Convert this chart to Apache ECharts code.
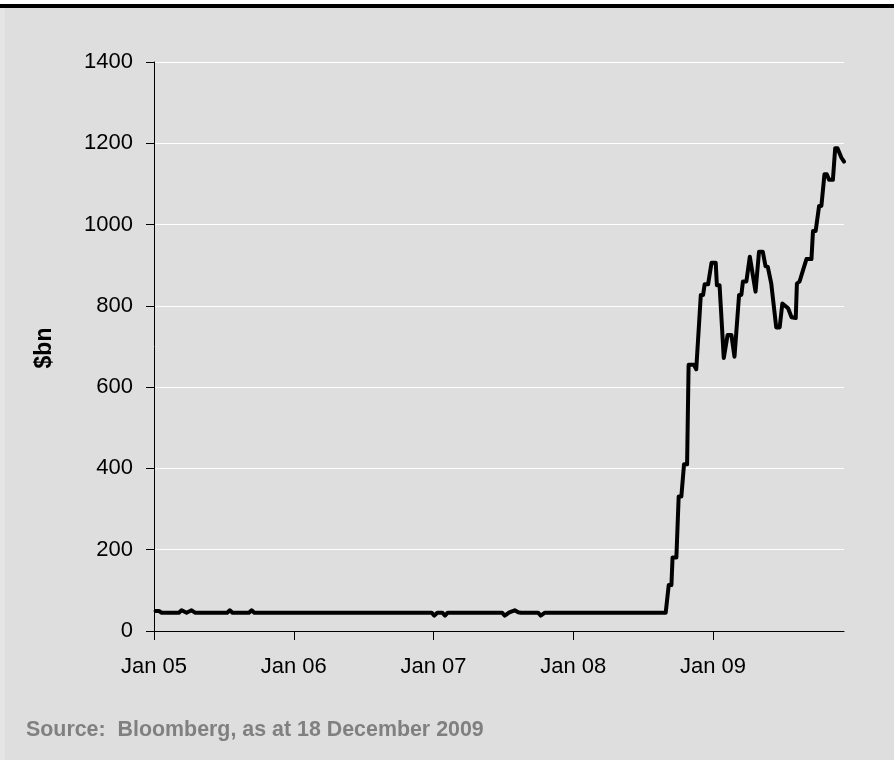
<!DOCTYPE html>
<html>
<head>
<meta charset="utf-8">
<script src="https://cdn.jsdelivr.net/npm/echarts@6/dist/echarts.min.js"></script>
<style>
  html, body { margin: 0; padding: 0; background: #ffffff; }
  #panel { position: absolute; left: 0; top: 8px; width: 894px; height: 752px; background: #dedede; }
  #edge { position: absolute; left: 0; top: 8px; width: 5px; height: 752px; background: #e5e5e5; }
  #rule { position: absolute; left: 0; top: 4px; width: 894px; height: 4px; background: #000000; }
  #chart { position: absolute; left: 0; top: 0; width: 894px; height: 760px; }
</style>
</head>
<body>
<div id="panel"></div>
<div id="edge"></div>
<div id="rule"></div>
<div id="chart"></div>
<script>
// Observation dates (turning points of the series)
const dates = [
  '2005-01-05', '2005-01-14', '2005-01-21', '2005-03-07', '2005-03-14', '2005-03-27',
  '2005-04-09', '2005-04-18', '2005-07-11', '2005-07-18', '2005-07-25', '2005-09-06',
  '2005-09-13', '2005-09-20', '2006-12-27', '2007-01-03', '2007-01-11', '2007-01-24',
  '2007-01-31', '2007-02-07', '2007-06-29', '2007-07-06', '2007-07-18', '2007-08-01',
  '2007-08-10', '2007-08-17', '2007-10-01', '2007-10-08', '2007-10-12', '2007-10-19',
  '2008-08-30', '2008-09-07', '2008-09-14', '2008-09-17', '2008-09-27', '2008-10-03',
  '2008-10-10', '2008-10-17', '2008-10-25', '2008-10-29', '2008-11-12', '2008-11-18',
  '2008-11-22', '2008-11-30', '2008-12-06', '2008-12-10', '2008-12-19', '2008-12-28',
  '2009-01-08', '2009-01-11', '2009-01-18', '2009-01-29', '2009-02-02', '2009-02-08',
  '2009-02-18', '2009-02-26', '2009-03-10', '2009-03-16', '2009-03-20', '2009-03-29',
  '2009-04-07', '2009-04-11', '2009-04-22', '2009-04-26', '2009-05-01', '2009-05-11',
  '2009-05-18', '2009-05-24', '2009-06-02', '2009-06-06', '2009-06-15', '2009-06-24',
  '2009-07-01', '2009-07-04', '2009-07-16', '2009-07-25', '2009-08-05', '2009-08-08',
  '2009-08-15', '2009-08-24', '2009-09-02', '2009-09-15', '2009-09-19', '2009-09-26',
  '2009-10-05', '2009-10-11', '2009-10-19', '2009-10-25', '2009-10-31', '2009-11-10',
  '2009-11-16', '2009-11-22', '2009-12-02', '2009-12-09'
];

// Values in $bn at those dates
const values = [
  49, 49, 45, 45, 51, 45,
  51, 45, 45, 51, 45, 45,
  51, 45, 45, 38, 45, 45,
  38, 45, 45, 38, 46, 51,
  46, 45, 45, 38, 38, 45,
  45, 113, 113, 181, 181, 331,
  331, 410, 410, 655, 655, 644,
  644, 827, 827, 853, 853, 906,
  906, 851, 851, 672, 672, 728,
  728, 675, 827, 827, 860, 860,
  921, 921, 835, 835, 933, 933,
  898, 896, 855, 853, 747, 747,
  806, 806, 794, 772, 770, 855,
  860, 888, 915, 915, 984, 984,
  1046, 1046, 1124, 1124, 1110, 1110,
  1188, 1188, 1165, 1155
];

// Year-start ticks on the date axis
const xTickDates = ['2005-01-01', '2006-01-01', '2007-01-01', '2008-01-01', '2009-01-01'];
const xTickLabels = ['Jan 05', 'Jan 06', 'Jan 07', 'Jan 08', 'Jan 09'];

// Value axis ticks
const yTicks = [0, 200, 400, 600, 800, 1000, 1200, 1400];

const yAxisTitle = '$bn';
const sourceNote = 'Source:  Bloomberg, as at 18 December 2009';

// Convert an ISO date to a fractional year so the x axis is linear in time
function toYear(s) {
  const [y, m, d] = s.split('-').map(Number);
  const start = Date.UTC(y, 0, 1);
  const end = Date.UTC(y + 1, 0, 1);
  return y + (Date.UTC(y, m - 1, d) - start) / (end - start);
}

const xTickValues = xTickDates.map(toYear);
const seriesData = dates.map((d, i) => [toYear(d), values[i]]);

const FONT = '"Liberation Sans", Arial, sans-serif';

const chart = echarts.init(document.getElementById('chart'), null, { renderer: 'canvas' });

chart.setOption({
  backgroundColor: 'transparent',
  animation: false,
  grid: { left: 154, right: 50, top: 62, bottom: 129, containLabel: false },
  xAxis: {
    type: 'value',
    min: xTickValues[0],
    max: toYear(dates[dates.length - 1]),
    axisLine: { show: true, onZero: false, lineStyle: { color: '#000000', width: 1 } },
    axisTick: {
      show: true, inside: false, length: 9,
      customValues: xTickValues,
      lineStyle: { color: '#000000', width: 1 }
    },
    axisLabel: {
      show: true, margin: 25,
      customValues: xTickValues,
      formatter: function (v) {
        let best = 0;
        for (let i = 1; i < xTickValues.length; i++) {
          if (Math.abs(xTickValues[i] - v) < Math.abs(xTickValues[best] - v)) best = i;
        }
        return xTickLabels[best];
      },
      color: '#000000', fontSize: 22, fontFamily: FONT
    },
    splitLine: { show: false }
  },
  yAxis: {
    type: 'value',
    min: yTicks[0],
    max: yTicks[yTicks.length - 1],
    interval: yTicks[1] - yTicks[0],
    axisLine: { show: true, lineStyle: { color: '#000000', width: 1 } },
    axisTick: { show: true, inside: false, length: 8, lineStyle: { color: '#000000', width: 1 } },
    axisLabel: {
      show: true, margin: 21, color: '#000000', fontSize: 22, fontFamily: FONT,
      formatter: function (v) { return String(v); }
    },
    splitLine: { show: true, lineStyle: { color: '#ffffff', width: 1 } }
  },
  series: [{
    type: 'line',
    data: seriesData,
    showSymbol: false,
    smooth: false,
    lineStyle: { color: '#000000', width: 4, join: 'round', cap: 'round' },
    z: 3
  }],
  graphic: [
    {
      type: 'text',
      x: 45, y: 348,
      rotation: Math.PI / 2,
      style: {
        text: yAxisTitle,
        fill: '#000000',
        font: 'bold 23px ' + FONT,
        textAlign: 'center',
        textVerticalAlign: 'middle'
      }
    },
    {
      type: 'text',
      x: 26, y: 730,
      style: {
        text: sourceNote,
        fill: '#808080',
        font: 'bold 21.4px ' + FONT,
        textAlign: 'left',
        textVerticalAlign: 'middle'
      }
    }
  ]
});
</script>
</body>
</html>
